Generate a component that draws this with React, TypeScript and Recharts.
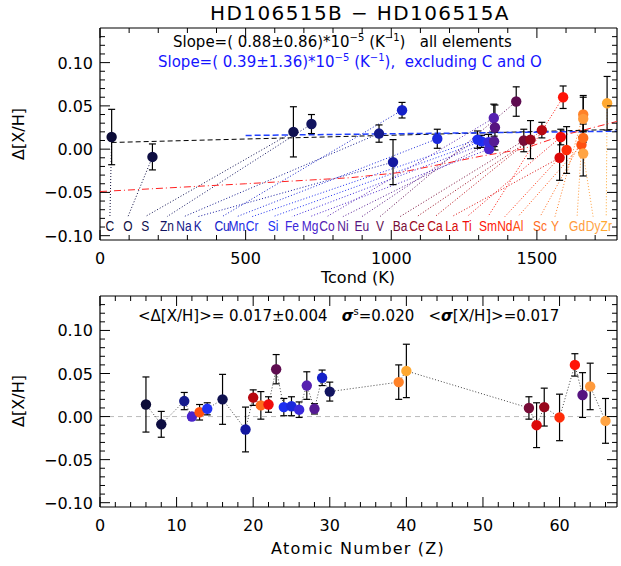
import React from 'react';
import { ScatterChart, Scatter, XAxis, YAxis, ErrorBar, ReferenceLine } from 'recharts';

// elements in order of atomic number
const elements = ['C', 'O', 'Na', 'Mg', 'Al', 'Si', 'S', 'K', 'Ca', 'Sc', 'Ti', 'V', 'Cr', 'Mn', 'Fe', 'Co', 'Ni', 'Cu', 'Zn', 'Y', 'Zr', 'Ba', 'La', 'Ce', 'Nd', 'Sm', 'Eu', 'Gd', 'Dy'];
const atomicNumber = [6, 8, 11, 12, 13, 14, 16, 19, 20, 21, 22, 23, 24, 25, 26, 27, 28, 29, 30, 39, 40, 56, 57, 58, 60, 62, 63, 64, 66];
const tcond = [40, 180, 958, 1336, 1653, 1310, 664, 1006, 1517, 1659, 1582, 1429, 1296, 1158, 1334, 1352, 1353, 1037, 726, 1659, 1741, 1455, 1578, 1478, 1602, 1590, 1356, 1659, 1659];
const deltaXH = [0.014, -0.009, 0.018, 0.000, 0.005, 0.009, 0.020, -0.015, 0.022, 0.013, 0.014, 0.055, 0.011, 0.012, 0.008, 0.036, 0.009, 0.045, 0.029, 0.040, 0.053, 0.010, -0.010, 0.011, -0.001, 0.060, 0.025, 0.035, -0.005];
const errXH = [0.032, 0.015, 0.010, 0.004, 0.009, 0.007, 0.029, 0.026, 0.009, 0.016, 0.009, 0.017, 0.010, 0.011, 0.009, 0.016, 0.006, 0.009, 0.011, 0.020, 0.031, 0.013, 0.026, 0.022, 0.027, 0.013, 0.026, 0.027, 0.026];

// fit lines (Tcond in K, value in dex)
const fitAllT = [40, 1775];
const fitAllV = [0.0077, 0.0228];
const fitNoCOT = [500, 1775];
const fitNoCOV = [0.0158, 0.0207];
const trendT = [0, 500, 860, 1030, 1310, 1450, 1590, 1775];
const trendV = [-0.049, -0.040, -0.033, -0.027, -0.008, 0.000, 0.016, 0.032];

// ticks
const tcMajor = [0, 500, 1000, 1500];
const tcMinor = [100, 200, 300, 400, 600, 700, 800, 900, 1100, 1200, 1300, 1400, 1600, 1700];
const zMajor = [0, 10, 20, 30, 40, 50, 60];
const zMinor = [2, 4, 6, 8, 12, 14, 16, 18, 22, 24, 26, 28, 32, 34, 36, 38, 42, 44, 46, 48, 52, 54, 56, 58, 62, 64, 66];
const yMajor = [-0.1, -0.05, 0, 0.05, 0.1];
const yMinor = [-0.09, -0.08, -0.07, -0.06, -0.04, -0.03, -0.02, -0.01, 0.01, 0.02, 0.03, 0.04, 0.06, 0.07, 0.08, 0.09, 0.11, 0.12, 0.13];

// label row under the top panel, in Tcond order
const labelOrder = ['C', 'O', 'S', 'Zn', 'Na', 'K', 'Cu', 'Mn', 'Cr', 'Si', 'Fe', 'Mg', 'Co', 'Ni', 'Eu', 'V', 'Ba', 'Ce', 'Ca', 'La', 'Ti', 'Sm', 'Nd', 'Al', 'Sc', 'Y', 'Gd', 'Dy', 'Zr'];
// layout: where each label sits along the Tcond axis
const labelAt = [34, 96, 155, 230, 288, 336, 419, 470, 522, 594, 659, 721, 779, 834, 899, 961, 1030, 1088, 1150, 1208, 1260, 1332, 1390, 1435, 1511, 1562, 1638, 1693, 1738];
const LABEL_Y = -0.089;
const LABEL_TOP = -0.078;

const colors: Record<string, string> = {
    C: '#0c0c38', O: '#0e0e42', S: '#0f1150', Zn: '#121460', Na: '#141a8c', K: '#1418a0',
    Cu: '#1420c8', Mn: '#1a28dc', Cr: '#1c2ef0', Si: '#2032f4', Fe: '#3a28dc', Mg: '#4a24cc',
    Co: '#5620b0', Ni: '#561c94', Eu: '#561480', V: '#5e0c50', Ba: '#780c38', Ce: '#98081c',
    Ca: '#b80810', La: '#dc0a0a', Ti: '#f00c0c', Sm: '#ff1408', Nd: '#ff2c08', Al: '#ff5010',
    Sc: '#ff6c1c', Y: '#ff8228', Gd: '#ff9a3c', Dy: '#ffa444', Zr: '#ffa830',
};

const FONT = 'DejaVu Sans';
const LABEL_FONT = 'Liberation Sans';
const Y_DOMAIN = [-0.105, 0.14];

const fmtY = (v: number) => (v < 0 ? '\u2212' : '') + Math.abs(v).toFixed(2);
const fmtX = (v: number) => String(v);

function makeTick(side: 'bottom' | 'top' | 'left' | 'right', majors: number[], fmt?: (v: number) => string) {
    return (p: any) => {
        const { x, y, payload } = p;
        const v = payload.value;
        const major = majors.some(m => Math.abs(m - v) < 1e-9);
        const len = major ? 10 : 5;
        let line;
        if (side === 'bottom') line = <line x1={x} y1={y} x2={x} y2={y - len} stroke="#000" strokeWidth={1} />;
        else if (side === 'top') line = <line x1={x} y1={y} x2={x} y2={y + len} stroke="#000" strokeWidth={1} />;
        else if (side === 'left') line = <line x1={x} y1={y} x2={x + len} y2={y} stroke="#000" strokeWidth={1} />;
        else line = <line x1={x} y1={y} x2={x - len} y2={y} stroke="#000" strokeWidth={1} />;
        let label = null;
        if (major && fmt) {
            if (side === 'bottom')
                label = <text x={x} y={y + 24} textAnchor="middle" fontSize={16} fontFamily={FONT} fill="#000">{fmt(v)}</text>;
            if (side === 'left')
                label = <text x={x - 7} y={y + 6} textAnchor="end" fontSize={16} fontFamily={FONT} fill="#000">{fmt(v)}</text>;
        }
        return <g>{line}{label}</g>;
    };
}

const frame = { stroke: '#000', strokeWidth: 1.2 };

function Axes({ xDomain, xMajor, xMinor }: { xDomain: number[]; xMajor: number[]; xMinor: number[] }) {
    const xTicks = [...xMajor, ...xMinor].sort((a, b) => a - b);
    const yTicks = [...yMajor, ...yMinor].sort((a, b) => a - b);
    return [
        <XAxis key="xb" xAxisId="b" type="number" dataKey="x" domain={xDomain} allowDataOverflow ticks={xTicks} interval={0}
            height={1} tickLine={false} tickSize={0} tickMargin={0} axisLine={frame} tick={makeTick('bottom', xMajor, fmtX)} />,
        <XAxis key="xt" xAxisId="t" orientation="top" type="number" dataKey="x" domain={xDomain} allowDataOverflow ticks={xTicks} interval={0}
            height={1} tickLine={false} tickSize={0} tickMargin={0} axisLine={frame} tick={makeTick('top', xMajor)} />,
        <YAxis key="yl" yAxisId="l" type="number" dataKey="y" domain={Y_DOMAIN} allowDataOverflow ticks={yTicks} interval={0}
            width={1} tickLine={false} tickSize={0} tickMargin={0} axisLine={frame} tick={makeTick('left', yMajor, fmtY)} />,
        <YAxis key="yr" yAxisId="r" orientation="right" type="number" dataKey="y" domain={Y_DOMAIN} allowDataOverflow ticks={yTicks} interval={0}
            width={1} tickLine={false} tickSize={0} tickMargin={0} axisLine={frame} tick={makeTick('right', yMajor)} />,
    ];
}

const dot = (p: any) => <circle cx={p.cx} cy={p.cy} r={5.2} fill={colors[p.payload.name]} />;

const elementLabel = (p: any) => (
    <text transform={`translate(${p.cx},${p.cy}) scale(0.8,1)`} textAnchor="middle" dominantBaseline="central"
        fontSize={15} fontFamily={LABEL_FONT} fill={colors[p.payload.name]}>{p.payload.name}</text>
);

export default function App() {
    const rows = elements.map((name, i) => ({ name, y: deltaXH[i], err: errXH[i] }));
    const tcRows = rows.map((r, i) => ({ ...r, x: tcond[i] }));
    const zRows = rows.map((r, i) => ({ ...r, x: atomicNumber[i] }));
    const labelRows = labelOrder.map((name, i) => ({ name, x: labelAt[i], y: LABEL_Y }));
    const trendRows = trendT.map((t, i) => ({ x: t, y: trendV[i] }));

    return (
        <div style={{ position: 'absolute', left: 0, top: 0, width: 621, height: 566, background: '#fff' }}>
            <div style={{ position: 'absolute', left: 0, top: 0 }}>
                <ScatterChart width={621} height={270} margin={{ top: 27, right: 3, bottom: 29, left: 99 }}>
                    {Axes({ xDomain: [0, 1775], xMajor: tcMajor, xMinor: tcMinor })}
                    {elements.map((el, i) => {
                        const k = labelOrder.indexOf(el);
                        return (
                            <ReferenceLine key={'c' + el} xAxisId="b" yAxisId="l" ifOverflow="visible"
                                segment={[{ x: tcond[i], y: deltaXH[i] }, { x: labelAt[k], y: LABEL_TOP }]}
                                stroke={colors[el]} strokeWidth={1} strokeDasharray="1 2" />
                        );
                    })}
                    <ReferenceLine xAxisId="b" yAxisId="l" ifOverflow="visible"
                        segment={[{ x: fitAllT[0], y: fitAllV[0] }, { x: fitAllT[1], y: fitAllV[1] }]}
                        stroke="#000" strokeWidth={1} strokeDasharray="5 3" />
                    <ReferenceLine xAxisId="b" yAxisId="l" ifOverflow="visible"
                        segment={[{ x: fitNoCOT[0], y: fitNoCOV[0] }, { x: fitNoCOT[1], y: fitNoCOV[1] }]}
                        stroke="#2040ff" strokeWidth={1.5} strokeDasharray="6 3" />
                    <Scatter xAxisId="b" yAxisId="l" data={trendRows} isAnimationActive={false}
                        line={{ stroke: '#ff2020', strokeWidth: 1, strokeDasharray: '7 3 1 3' }} shape={() => <g />} />
                    <Scatter xAxisId="b" yAxisId="l" data={labelRows} isAnimationActive={false} shape={elementLabel} />
                    <Scatter xAxisId="b" yAxisId="l" data={tcRows} isAnimationActive={false} shape={dot}>
                        <ErrorBar dataKey="err" direction="y" width={3.5} stroke="#000" strokeWidth={1.2} />
                    </Scatter>
                </ScatterChart>
            </div>
            <div style={{ position: 'absolute', left: 0, top: 270 }}>
                <ScatterChart width={621} height={296} margin={{ top: 25, right: 3, bottom: 58, left: 99 }}>
                    {Axes({ xDomain: [0, 67.5], xMajor: zMajor, xMinor: zMinor })}
                    <ReferenceLine xAxisId="b" yAxisId="l" y={0} stroke="#bbbbbb" strokeWidth={1} strokeDasharray="5 4" />
                    <Scatter xAxisId="b" yAxisId="l" data={zRows} isAnimationActive={false} shape={dot}
                        line={{ stroke: '#444', strokeWidth: 1, strokeDasharray: '1 2' }}>
                        <ErrorBar dataKey="err" direction="y" width={3.5} stroke="#000" strokeWidth={1.2} />
                    </Scatter>
                </ScatterChart>
            </div>
            <svg width={621} height={566} style={{ position: 'absolute', left: 0, top: 0, pointerEvents: 'none' }}
                fontFamily={FONT}>
                <text x={360} y={20} textAnchor="middle" fontSize={20} letterSpacing={1.4} fill="#000">HD106515B − HD106515A</text>
                <text x={173} y={47} fontSize={15} fill="#000" style={{ whiteSpace: 'pre' }}>
                    Slope=( 0.88±0.86)*10<tspan dy={-6} fontSize={10}>−5</tspan><tspan dy={6}> (K</tspan>
                    <tspan dy={-6} fontSize={10}>−1</tspan><tspan dy={6}>)   all elements</tspan>
                </text>
                <text x={158} y={67} fontSize={15} fill="#1414ff" style={{ whiteSpace: 'pre' }}>
                    Slope=( 0.39±1.36)*10<tspan dy={-6} fontSize={10}>−5</tspan><tspan dy={6}> (K</tspan>
                    <tspan dy={-6} fontSize={10}>−1</tspan><tspan dy={6}>),  excluding C and O</tspan>
                </text>
                <text x={358} y={283} textAnchor="middle" fontSize={16} fill="#000">Tcond (K)</text>
                <text x={358} y={554} textAnchor="middle" fontSize={16} letterSpacing={1.2} fill="#000">Atomic Number (Z)</text>
                <text transform="translate(24,134) rotate(-90)" textAnchor="middle" fontSize={16} fill="#000">Δ[X/H]</text>
                <text transform="translate(24,401) rotate(-90)" textAnchor="middle" fontSize={16} fill="#000">Δ[X/H]</text>
                <text x={138} y={321} fontSize={15} fill="#000" style={{ whiteSpace: 'pre' }}>
                    {'<Δ[X/H]>= 0.017±0.004   '}<tspan fontWeight="bold" fontStyle="italic">σ</tspan>
                    <tspan dy={-6} fontSize={10}>s</tspan><tspan dy={6}>{'=0.020   <'}</tspan>
                    <tspan fontWeight="bold" fontStyle="italic">σ</tspan><tspan>{'[X/H]>=0.017'}</tspan>
                </text>
            </svg>
        </div>
    );
}
